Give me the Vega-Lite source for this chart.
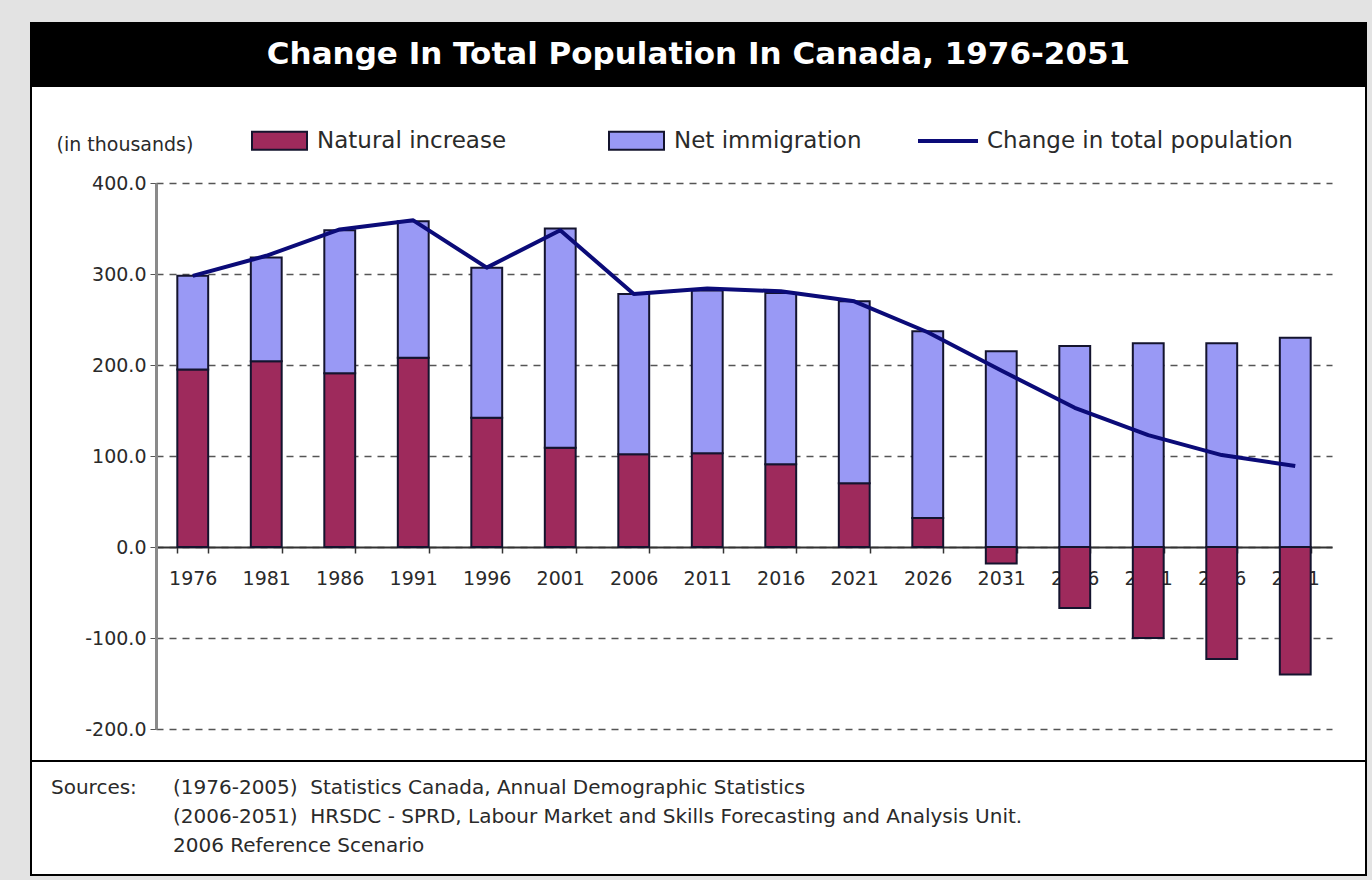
{
  "$schema": "https://vega.github.io/schema/vega-lite/v6.json",
  "background": "#e3e3e3",
  "padding": {"left": 30, "top": 22, "right": 6, "bottom": 5},
  "spacing": 0,
  "bounds": "flush",
  "config": {
    "font": "DejaVu Sans",
    "text": {"font": "DejaVu Sans"}
  },
  "datasets": {
    "components": [
      {"year": "1976", "series": "Natural increase", "value": 195},
      {"year": "1976", "series": "Net immigration", "value": 103},
      {"year": "1981", "series": "Natural increase", "value": 204},
      {"year": "1981", "series": "Net immigration", "value": 114},
      {"year": "1986", "series": "Natural increase", "value": 191},
      {"year": "1986", "series": "Net immigration", "value": 157},
      {"year": "1991", "series": "Natural increase", "value": 208},
      {"year": "1991", "series": "Net immigration", "value": 150},
      {"year": "1996", "series": "Natural increase", "value": 142},
      {"year": "1996", "series": "Net immigration", "value": 165},
      {"year": "2001", "series": "Natural increase", "value": 109},
      {"year": "2001", "series": "Net immigration", "value": 241},
      {"year": "2006", "series": "Natural increase", "value": 102},
      {"year": "2006", "series": "Net immigration", "value": 176},
      {"year": "2011", "series": "Natural increase", "value": 103},
      {"year": "2011", "series": "Net immigration", "value": 179},
      {"year": "2016", "series": "Natural increase", "value": 91},
      {"year": "2016", "series": "Net immigration", "value": 188},
      {"year": "2021", "series": "Natural increase", "value": 70},
      {"year": "2021", "series": "Net immigration", "value": 200},
      {"year": "2026", "series": "Natural increase", "value": 32},
      {"year": "2026", "series": "Net immigration", "value": 205},
      {"year": "2031", "series": "Natural increase", "value": -18},
      {"year": "2031", "series": "Net immigration", "value": 215},
      {"year": "2036", "series": "Natural increase", "value": -67},
      {"year": "2036", "series": "Net immigration", "value": 221},
      {"year": "2041", "series": "Natural increase", "value": -100},
      {"year": "2041", "series": "Net immigration", "value": 224},
      {"year": "2046", "series": "Natural increase", "value": -123},
      {"year": "2046", "series": "Net immigration", "value": 224},
      {"year": "2051", "series": "Natural increase", "value": -140},
      {"year": "2051", "series": "Net immigration", "value": 230}
    ],
    "totals": [
      {"year": "1976", "total": 298},
      {"year": "1981", "total": 320},
      {"year": "1986", "total": 349},
      {"year": "1991", "total": 359},
      {"year": "1996", "total": 307},
      {"year": "2001", "total": 348},
      {"year": "2006", "total": 278},
      {"year": "2011", "total": 284},
      {"year": "2016", "total": 281},
      {"year": "2021", "total": 270},
      {"year": "2026", "total": 236},
      {"year": "2031", "total": 194},
      {"year": "2036", "total": 153},
      {"year": "2041", "total": 123},
      {"year": "2046", "total": 101},
      {"year": "2051", "total": 89}
    ],
    "sources": [
      {"col": "label", "line": 1, "txt": "Sources:"},
      {"col": "body", "line": 1, "txt": "(1976-2005)\u00a0 Statistics Canada, Annual Demographic Statistics"},
      {"col": "body", "line": 2, "txt": "(2006-2051)\u00a0 HRSDC - SPRD, Labour Market and Skills Forecasting and Analysis Unit."},
      {"col": "body", "line": 3, "txt": "2006 Reference Scenario"}
    ]
  },
  "vconcat": [
    {
      "width": 1335,
      "height": 63,
      "view": {"fill": "#000000", "stroke": "#000000", "strokeWidth": 2},
      "data": {"values": [{}]},
      "mark": {
        "type": "text",
        "text": "Change In Total Population In Canada, 1976-2051",
        "font": "DejaVu Sans",
        "fontWeight": "bold",
        "fontSize": 31,
        "color": "#ffffff",
        "align": "center",
        "baseline": "middle"
      }
    },
    {
      "width": 1335,
      "height": 675,
      "view": {"fill": "#ffffff", "stroke": "#000000", "strokeWidth": 2},
      "layer": [
        {
          "data": {"name": "components"},
          "mark": {"type": "bar", "stroke": "#14142e", "strokeWidth": 2},
          "encoding": {
            "x": {
              "field": "year",
              "type": "ordinal",
              "scale": {"range": [125, 1301], "paddingInner": 0.58, "paddingOuter": 0.29},
              "axis": {
                "title": null,
                "offset": -214,
                "domainColor": "#333333",
                "domainWidth": 2,
                "tickBand": "extent",
                "tickColor": "#333333",
                "tickSize": 6,
                "tickWidth": 1.5,
                "labelAngle": 0,
                "labelFont": "DejaVu Sans",
                "labelFontSize": 19,
                "labelColor": "#2a2a2a",
                "labelPadding": 16,
                "grid": false
              }
            },
            "y": {
              "field": "value",
              "type": "quantitative",
              "stack": "zero",
              "scale": {"domain": [-200, 400], "range": [643, 97], "nice": false, "zero": false},
              "axis": {
                "title": "(in thousands)",
                "offset": -125,
                "values": [-200, -100, 0, 100, 200, 300, 400],
                "labelExpr": "replace(format(datum.value, '.1f'), '\u2212', '-')",
                "domainColor": "#8a8a8a",
                "domainWidth": 3,
                "tickColor": "#555555",
                "tickSize": 6,
                "labelFont": "DejaVu Sans",
                "labelFontSize": 19,
                "labelColor": "#2a2a2a",
                "labelPadding": 4,
                "grid": true,
                "gridColor": "#555555",
                "gridDash": [7, 6],
                "gridWidth": 1.3,
                "titleAngle": 0,
                "titleX": -100,
                "titleY": 58,
                "titleAlign": "left",
                "titleBaseline": "middle",
                "titleFont": "DejaVu Sans",
                "titleFontSize": 19,
                "titleFontWeight": "normal",
                "titleColor": "#2a2a2a"
              }
            },
            "color": {
              "field": "series",
              "type": "nominal",
              "scale": {"domain": ["Natural increase", "Net immigration"], "range": ["#9e2a5c", "#9999f5"]},
              "legend": {
                "orient": "none",
                "legendX": 237,
                "legendY": 106,
                "direction": "horizontal",
                "title": null,
                "symbolType": "M-2.75,-0.9H2.75V0.9H-2.75Z",
                "symbolSize": 400,
                "symbolStrokeColor": "#14142e",
                "symbolStrokeWidth": 2,
                "symbolOpacity": 1,
                "labelFont": "DejaVu Sans",
                "labelFontSize": 23,
                "labelColor": "#2a2a2a",
                "labelOffset": 26,
                "labelLimit": 0,
                "columnPadding": 98,
                "padding": 0
              }
            },
            "order": {"field": "series", "sort": "ascending"}
          }
        },
        {
          "data": {"name": "totals"},
          "mark": {"type": "line", "interpolate": "linear", "strokeWidth": 4, "strokeJoin": "round"},
          "encoding": {
            "x": {"field": "year", "type": "ordinal"},
            "y": {"field": "total", "type": "quantitative"},
            "stroke": {
              "datum": "Change in total population",
              "type": "nominal",
              "scale": {"range": ["#0b0b78"]},
              "legend": {
                "orient": "none",
                "legendX": 885,
                "legendY": 86,
                "title": null,
                "symbolType": "stroke",
                "symbolSize": 3600,
                "symbolStrokeWidth": 4,
                "labelFont": "DejaVu Sans",
                "labelFontSize": 23,
                "labelColor": "#2a2a2a",
                "labelOffset": 7,
                "labelLimit": 0,
                "padding": 0
              }
            }
          }
        }
      ]
    },
    {
      "width": 1335,
      "height": 114,
      "view": {"fill": "#ffffff", "stroke": "#000000", "strokeWidth": 2},
      "data": {"name": "sources"},
      "mark": {"type": "text", "align": "left", "baseline": "middle", "font": "DejaVu Sans", "fontSize": 20, "color": "#2a2a2a"},
      "encoding": {
        "x": {"field": "col", "type": "nominal", "scale": {"type": "point", "domain": ["label", "body"], "range": [20, 142], "padding": 0}, "axis": null},
        "y": {"field": "line", "type": "ordinal", "scale": {"type": "point", "domain": [1, 2, 3], "range": [27, 85], "padding": 0}, "axis": null},
        "text": {"field": "txt"}
      }
    }
  ]
}
